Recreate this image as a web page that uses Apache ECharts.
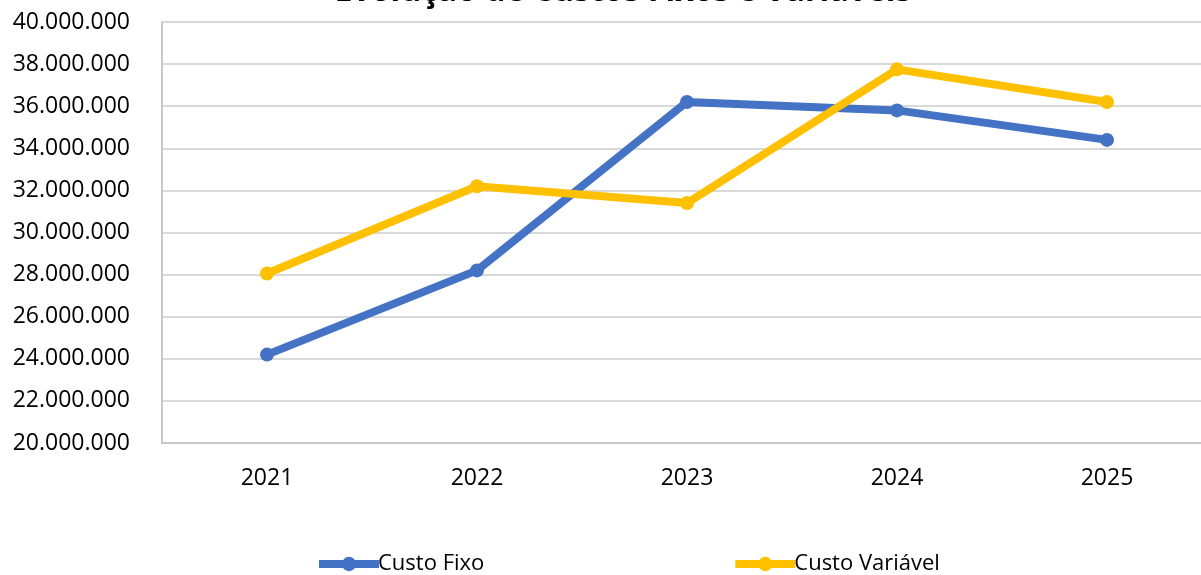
<!DOCTYPE html>
<html>
<head>
<meta charset="utf-8">
<script src="https://cdn.jsdelivr.net/npm/echarts@6/dist/echarts.min.js"></script>
<style>html,body{margin:0;padding:0;background:#fff;overflow:hidden}#c{width:1230px;height:575px}</style>
</head>
<body>
<div id="c"></div>
<script>
const titleText = "Evolução de Custos Fixos e Variáveis";
const years = ["2021", "2022", "2023", "2024", "2025"];
const custoFixo = [24200000, 28200000, 36200000, 35800000, 34400000];
const custoVariavel = [28050000, 32200000, 31400000, 37750000, 36200000];
const seriesNames = ["Custo Fixo", "Custo Variável"];
const yMin = 20000000, yMax = 40000000, yStep = 2000000;

function fmt(v) {
  return String(Math.round(v)).replace(/\B(?=(\d{3})+(?!\d))/g, ".");
}
const FONT = "Open Sans";
const chart = echarts.init(document.getElementById('c'), null, {renderer: 'canvas'});
chart.setOption({
  animation: false,
  backgroundColor: '#ffffff',
  title: {
    text: titleText, left: 623, textAlign: 'center', top: -24, padding: 0,
    textStyle: {fontFamily: FONT, fontSize: 32, fontWeight: 'bold', color: '#000'}
  },
  grid: {left: 162, top: 22, width: 1050, height: 421, containLabel: false},
  legend: {
    left: 310, top: 548, itemWidth: 60, itemHeight: 18, itemGap: 247,
    lineStyle: {width: 8},
    textStyle: {fontFamily: FONT, fontSize: 22, color: '#000', padding: [0, 0, 0, -6]},
    data: seriesNames
  },
  xAxis: {
    type: 'category', data: years, boundaryGap: true,
    axisLine: {lineStyle: {color: '#c9c9c9', width: 2}},
    axisTick: {show: false},
    axisLabel: {fontFamily: FONT, fontSize: 23, color: '#000', margin: 24}
  },
  yAxis: {
    type: 'value', min: yMin, max: yMax, interval: yStep,
    axisLine: {show: true, lineStyle: {color: '#c9c9c9', width: 2}},
    axisTick: {show: false},
    splitLine: {lineStyle: {color: '#d9d9d9', width: 2}},
    axisLabel: {fontFamily: FONT, fontSize: 23, color: '#000', margin: 32, formatter: fmt}
  },
  series: [
    {name: seriesNames[0], type: 'line', data: custoFixo, symbol: 'circle', symbolSize: 14,
     lineStyle: {width: 8, color: '#4472C4'}, itemStyle: {color: '#4472C4'}},
    {name: seriesNames[1], type: 'line', data: custoVariavel, symbol: 'circle', symbolSize: 14,
     lineStyle: {width: 8, color: '#FFC000'}, itemStyle: {color: '#FFC000'}}
  ]
});
</script>
</body>
</html>
